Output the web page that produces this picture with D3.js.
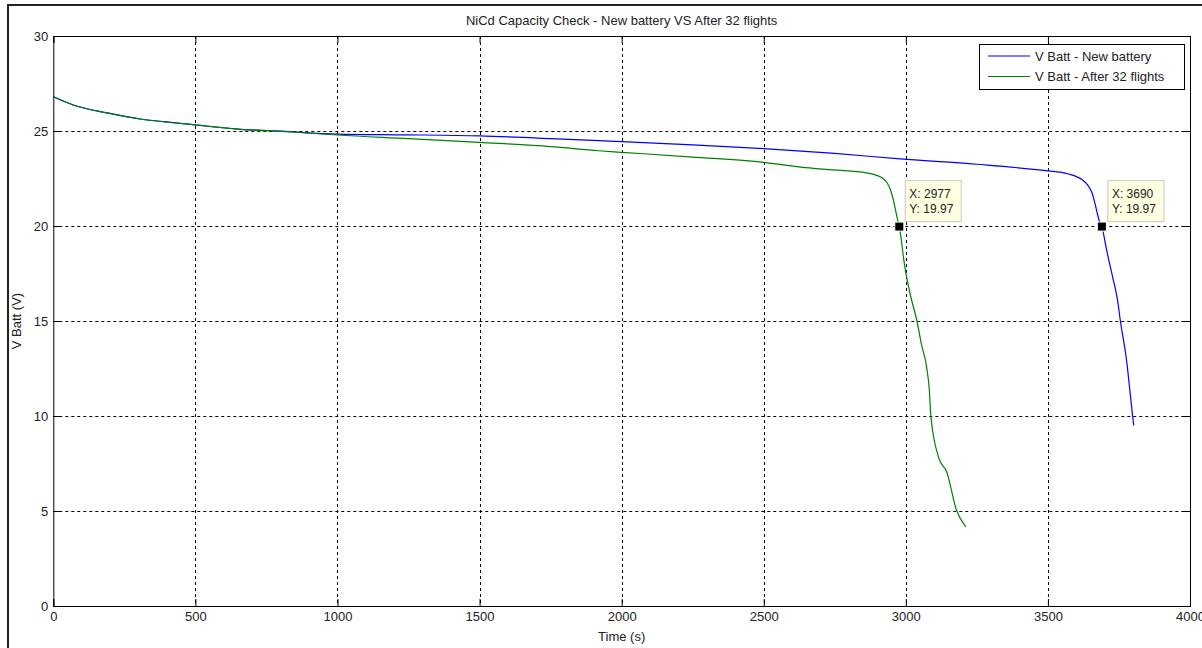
<!DOCTYPE html>
<html><head><meta charset="utf-8">
<script src="https://cdn.jsdelivr.net/npm/d3@7"></script>
<style>body{margin:0;background:#fff;} text{font-family:"Liberation Sans",Arial,sans-serif;}</style>
</head><body>
<svg id="c" width="1202" height="648"></svg>
<script>
const title = "NiCd Capacity Check - New battery VS After 32 flights";
const xLabel = "Time (s)";
const yLabel = "V Batt (V)";
const seriesNames = ["V Batt - New battery", "V Batt - After 32 flights"];
const seriesColors = ["#0000ff", "#008000"];
const xTicks = [0, 500, 1000, 1500, 2000, 2500, 3000, 3500, 4000];
const yTicks = [0, 5, 10, 15, 20, 25, 30];

const newTime = [0, 70, 190, 305, 400, 500, 660, 800, 870, 1000, 1250, 1500, 1750, 1920, 2000, 2250, 2500, 2750, 2980, 3250, 3500, 3560, 3600, 3620, 3640, 3655, 3667, 3680, 3690, 3707, 3728, 3745, 3755, 3777, 3788, 3798, 3802];
const newVolt = [26.8, 26.37, 25.95, 25.63, 25.48, 25.32, 25.09, 25.0, 24.93, 24.84, 24.8, 24.74, 24.6, 24.49, 24.44, 24.27, 24.07, 23.82, 23.53, 23.25, 22.9, 22.78, 22.6, 22.45, 22.15, 21.75, 21.1, 20.3, 19.97, 18.7, 17.3, 16.1, 15.0, 12.9, 11.4, 10.0, 9.5];

const oldTime = [0, 70, 190, 305, 500, 660, 800, 870, 1000, 1250, 1500, 1750, 1920, 2000, 2250, 2500, 2630, 2745, 2860, 2900, 2920, 2935, 2945, 2954, 2963, 2970, 2977, 2997, 3014, 3039, 3056, 3073, 3083, 3088, 3116, 3144, 3178, 3211];
const oldVolt = [26.8, 26.37, 25.95, 25.63, 25.32, 25.09, 24.98, 24.92, 24.79, 24.6, 24.4, 24.18, 23.96, 23.88, 23.63, 23.35, 23.1, 22.95, 22.8, 22.65, 22.5, 22.25, 21.95, 21.5, 20.9, 20.4, 19.97, 17.8, 16.5, 15.0, 13.7, 12.6, 11.3, 10.0, 7.8, 7.05, 5.05, 4.16];

const tipX = [2977, 3690];
const tipY = [19.97, 19.97];

const svg = d3.select("#c");
const L = 53.3, R = 1190, T = 36, B = 606;
const x = d3.scaleLinear().domain([0, 4000]).range([L, R]);
const y = d3.scaleLinear().domain([0, 30]).range([B, T]);

// outer frame
svg.append("rect").attr("x", 8).attr("y", 5).attr("width", 1210).attr("height", 660)
  .attr("fill", "none").attr("stroke", "#222").attr("stroke-width", 2);

// grid
const g = svg.append("g");
g.selectAll(".vg").data(xTicks.slice(1, -1)).join("line")
  .attr("x1", d => Math.round(x(d)) + 0.5).attr("x2", d => Math.round(x(d)) + 0.5)
  .attr("y1", T).attr("y2", B).attr("stroke", "#000").attr("stroke-dasharray", "3,3");
g.selectAll(".hg").data(yTicks.slice(1, -1)).join("line")
  .attr("y1", d => Math.round(y(d)) + 0.5).attr("y2", d => Math.round(y(d)) + 0.5)
  .attr("x1", L).attr("x2", R).attr("stroke", "#000").attr("stroke-dasharray", "3,3");

// axes with inner ticks on all sides
const tk = 7;
const axB = svg.append("g").attr("transform", `translate(0,${B})`)
  .call(d3.axisBottom(x).tickValues(xTicks).tickSize(-tk).tickPadding(6).tickFormat(d3.format("d")));
const axT = svg.append("g").attr("transform", `translate(0,${T})`)
  .call(d3.axisTop(x).tickValues(xTicks).tickSize(-tk).tickFormat(""));
const axL = svg.append("g").attr("transform", `translate(${L},0)`)
  .call(d3.axisLeft(y).tickValues(yTicks).tickSize(-tk).tickPadding(5).tickFormat(d3.format("d")));
const axR = svg.append("g").attr("transform", `translate(${R},0)`)
  .call(d3.axisRight(y).tickValues(yTicks).tickSize(-tk).tickFormat(""));
[axB, axT, axL, axR].forEach(a => {
  a.select(".domain").attr("stroke", "#000");
  a.selectAll(".tick line").attr("stroke", "#000");
  a.selectAll("text").attr("font-size", 13).attr("fill", "#222")
    .attr("font-family", "Liberation Sans, Arial, sans-serif");
});

// lines
const line = d3.line().x(d => x(d[0])).y(d => y(d[1])).curve(d3.curveMonotoneX);
const seriesData = [d3.zip(newTime, newVolt), d3.zip(oldTime, oldVolt)];
seriesData.forEach((s, i) => {
  svg.append("path").datum(s).attr("d", line).attr("fill", "none")
    .attr("stroke", seriesColors[i]).attr("stroke-width", 1.2);
});

// title and labels
svg.append("text").attr("x", (L + R) / 2).attr("y", 25).attr("text-anchor", "middle")
  .attr("font-size", 13).attr("fill", "#222").text(title);
svg.append("text").attr("x", (L + R) / 2).attr("y", 641).attr("text-anchor", "middle")
  .attr("font-size", 13).attr("fill", "#222").text(xLabel);
svg.append("text").attr("transform", `translate(21,${(T + B) / 2}) rotate(-90)`)
  .attr("text-anchor", "middle").attr("font-size", 13).attr("fill", "#222").text(yLabel);

// datatips
tipX.forEach((tx, i) => {
  const px = x(tx), py = y(tipY[i]);
  const bx = px + 6, by = py - 46;
  svg.append("rect").attr("x", bx).attr("y", by).attr("width", 56).attr("height", 41)
    .attr("fill", "#ffffe1").attr("stroke", "#d0d0c8").attr("stroke-width", 1.2);
  svg.append("text").attr("x", bx + 4).attr("y", by + 17).attr("font-size", 12).attr("fill", "#222").text("X: " + tx);
  svg.append("text").attr("x", bx + 4).attr("y", by + 32).attr("font-size", 12).attr("fill", "#222").text("Y: " + tipY[i]);
  svg.append("rect").attr("x", px - 5).attr("y", py - 5).attr("width", 10).attr("height", 10)
    .attr("fill", "#ffffe1");
  svg.append("rect").attr("x", px - 4).attr("y", py - 4).attr("width", 8).attr("height", 8)
    .attr("fill", "#000");
});

// legend
const lg = svg.append("g");
lg.append("rect").attr("x", 979.5).attr("y", 44.5).attr("width", 205).attr("height", 45)
  .attr("fill", "#fff").attr("stroke", "#000");
seriesNames.forEach((n, i) => {
  const ly = 56 + i * 20.5;
  lg.append("line").attr("x1", 988).attr("x2", 1030).attr("y1", ly).attr("y2", ly)
    .attr("stroke", seriesColors[i]).attr("stroke-width", 1.2);
  lg.append("text").attr("x", 1035).attr("y", ly + 4.5).attr("font-size", 13).attr("fill", "#222").text(n);
});
</script>
</body></html>
